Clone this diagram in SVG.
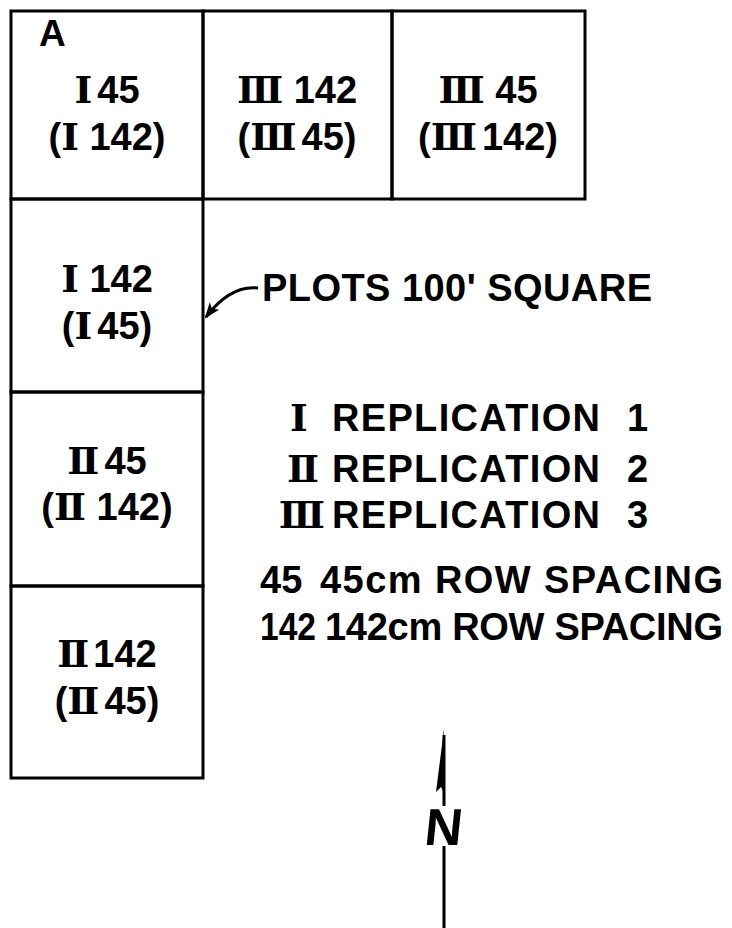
<svg xmlns="http://www.w3.org/2000/svg" width="732" height="928" viewBox="0 0 732 928">
<style>
.bx{fill:none;stroke:#000;stroke-width:3}
.t{font-family:"Liberation Sans",Arial,sans-serif;font-weight:bold;font-size:38px;fill:#000}
.c{text-anchor:middle}
.r{font-family:"DejaVu Serif","DejaVu Sans","Liberation Serif",serif;font-weight:bold}
.ln{fill:none;stroke:#000;stroke-width:3}
</style>
<defs>
<marker id="ah" markerWidth="16" markerHeight="12" refX="14" refY="6" orient="auto" markerUnits="userSpaceOnUse" viewBox="0 0 16 12">
<path d="M0,0 L16,6 L0,12 L4,6 Z" fill="#000"/>
</marker>
</defs>
<rect width="732" height="928" fill="#fff"/>
<g id="plot-i45">
<rect class="bx" x="11" y="11" width="192" height="188"/>
<text class="t" x="39" y="46" style="font-size:37px">A</text>
<text class="t c" x="107" y="103"><tspan class="r">Ⅰ</tspan><tspan dx="5">45</tspan></text>
<text class="t c" x="107" y="150">(<tspan class="r">Ⅰ</tspan> 142)</text>
</g>
<g id="plot-iii142">
<rect class="bx" x="203" y="11" width="189" height="188"/>
<text class="t c" x="297" y="103"><tspan class="r">Ⅲ</tspan> 142</text>
<text class="t c" x="297" y="150">(<tspan class="r">Ⅲ</tspan><tspan dx="5">45)</tspan></text>
</g>
<g id="plot-iii45">
<rect class="bx" x="392" y="11" width="193" height="188"/>
<text class="t c" x="488" y="103"><tspan class="r">Ⅲ</tspan> 45</text>
<text class="t c" x="488" y="150">(<tspan class="r">Ⅲ</tspan><tspan dx="5">142)</tspan></text>
</g>
<g id="plot-i142">
<rect class="bx" x="11" y="199" width="192" height="193"/>
<text class="t c" x="107" y="292"><tspan class="r">Ⅰ</tspan> 142</text>
<text class="t c" x="107" y="339">(<tspan class="r">Ⅰ</tspan><tspan dx="5">45)</tspan></text>
</g>
<g id="plot-ii45">
<rect class="bx" x="11" y="392" width="192" height="194"/>
<text class="t c" x="107" y="474"><tspan class="r">Ⅱ</tspan><tspan dx="5">45</tspan></text>
<text class="t c" x="107" y="520">(<tspan class="r">Ⅱ</tspan> 142)</text>
</g>
<g id="plot-ii142">
<rect class="bx" x="11" y="586" width="192" height="192"/>
<text class="t c" x="107" y="667"><tspan class="r">Ⅱ</tspan><tspan dx="4">142</tspan></text>
<text class="t c" x="107" y="714">(<tspan class="r">Ⅱ</tspan><tspan dx="5">45)</tspan></text>
</g>
<g id="label-plots">
<text class="t" x="262" y="301" textLength="390" lengthAdjust="spacing">PLOTS 100' SQUARE</text>
</g>
<g id="legend">
<text class="t c r" x="299" y="431">Ⅰ</text>
<text class="t" x="332" y="431" textLength="268" lengthAdjust="spacing">REPLICATION</text>
<text class="t" x="627" y="431">1</text>
<text class="t c r" x="303" y="482">Ⅱ</text>
<text class="t" x="332" y="482" textLength="268" lengthAdjust="spacing">REPLICATION</text>
<text class="t" x="627" y="482">2</text>
<text class="t c r" x="302" y="528">Ⅲ</text>
<text class="t" x="332" y="528" textLength="268" lengthAdjust="spacing">REPLICATION</text>
<text class="t" x="627" y="528">3</text>
<text class="t" x="260" y="593">45</text>
<text class="t" x="320" y="593" textLength="403" lengthAdjust="spacing">45cm ROW SPACING</text>
<text class="t" x="260" y="640" textLength="56" lengthAdjust="spacingAndGlyphs">142</text>
<text class="t" x="325" y="640" textLength="398" lengthAdjust="spacing">142cm ROW SPACING</text>
</g>
<g id="north">
<polygon points="444,729 436,792 441,787 444,793" fill="#000"/>
<line class="ln" x1="444" y1="735" x2="444" y2="806"/>
<text class="t" x="444" y="845" text-anchor="middle" style="font-size:52px" transform="translate(0,826) skewX(-6) translate(0,-826)">N</text>
<line class="ln" x1="444" y1="846" x2="444" y2="928"/>
</g>
<g id="connectors">
<path class="ln" d="M258,288 C240,286 222,296 206,317" marker-end="url(#ah)"/>
</g>
</svg>
